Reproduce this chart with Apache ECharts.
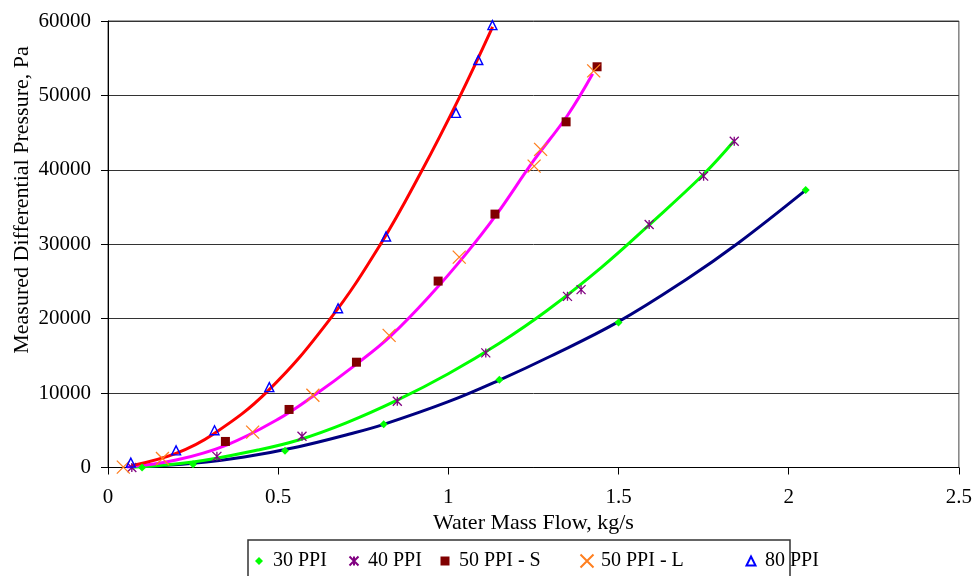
<!DOCTYPE html>
<html>
<head>
<meta charset="utf-8">
<script src="https://cdn.jsdelivr.net/npm/echarts@6/dist/echarts.min.js"></script>
<style>html,body{margin:0;padding:0;background:#fff;}#c{width:975px;height:576px;}</style>
</head>
<body>
<div id="c"></div>
<script>
// ---- data (x: kg/s, y: Pa) ----
const xTicks = [0, 0.5, 1, 1.5, 2, 2.5];
const yTicks = [0, 10000, 20000, 30000, 40000, 50000, 60000];

const ppi30 = [[0.10,0],[0.25,450],[0.52,2250],[0.81,5800],[1.15,11800],[1.50,19500],[2.05,37300]];
const ppi40 = [[0.07,0],[0.32,1500],[0.57,4200],[0.85,8900],[1.11,15400],[1.35,23000],[1.39,23900],[1.59,32650],[1.75,39150],[1.84,43850]];
const ppi50S = [[0.345,3500],[0.532,7800],[0.73,14150],[0.97,25050],[1.137,34050],[1.346,46450],[1.437,53850]];
const ppi50L = [[0.045,50],[0.16,1200],[0.425,4750],[0.602,9700],[0.826,17750],[1.032,28270],[1.252,40500],[1.271,42750],[1.427,53300]];
const ppi80 = [[0.067,650],[0.20,2300],[0.313,5000],[0.474,10800],[0.676,21400],[0.817,31050],[1.0225,47650],[1.088,54750],[1.1295,59450]];

// trendlines
const trend30 = [[0.10,90],[0.25,560],[0.40,1420],[0.56,2800],[0.71,4500],[0.81,5800],[1.00,8850],[1.15,11750],[1.30,14950],[1.50,19600],[1.70,25300],[1.85,30100],[2.05,37270]];
const trend40 = [[0.07,50],[0.25,740],[0.44,2350],[0.56,3700],[0.70,6000],[0.85,9050],[1.00,12600],[1.15,16700],[1.29,21100],[1.45,26900],[1.59,32600],[1.75,39400],[1.838,43800]];
const trend50 = [[0.055,50],[0.20,1000],[0.35,3050],[0.50,6500],[0.60,9500],[0.73,13900],[0.83,17650],[0.95,23300],[1.05,28600],[1.14,33900],[1.25,41200],[1.35,47300],[1.424,52900]];
const trend80 = [[0.069,250],[0.20,1900],[0.31,4500],[0.47,10300],[0.65,19800],[0.80,29950],[0.92,39700],[1.03,49500],[1.13,59200]];

const names = ['30 PPI','40 PPI','50 PPI - S','50 PPI - L','80 PPI'];

const FONT = 'Liberation Serif';
const ASTER = 'path://M0,0L10,10M10,0L0,10M5,0L5,10';
const XMARK = 'path://M0,0L10,10M10,0L0,10';

const chart = echarts.init(document.getElementById('c'), null, {renderer:'canvas'});

function trend(data, color){
  return {type:'line', data:data, smooth:0.4, showSymbol:false, silent:true,
    lineStyle:{color:color, width:3}, z:2};
}
function legendAt(name, textLeft, size){
  const pad = 14 - size/2 - 5;
  return {data:[name], left:textLeft - size - 5 - pad, top:551, padding:0, itemWidth:size, itemHeight:size,
    textStyle:{fontFamily:FONT, fontSize:20, color:'#000', padding:[0,0,0,pad]}, selectedMode:false};
}

const option = {
  animation:false,
  backgroundColor:'#fff',
  grid:{left:108, right:13, top:21, bottom:108.5, show:true, borderColor:'#444', borderWidth:1},
  xAxis:{type:'value', min:0, max:2.5, interval:0.5,
    name:'Water Mass Flow, kg/s', nameLocation:'middle', nameGap:43,
    nameTextStyle:{fontFamily:FONT, fontSize:22, color:'#000'},
    axisLine:{show:true, lineStyle:{color:'#000', width:1}},
    axisTick:{show:true, inside:false, length:7, lineStyle:{color:'#000'}},
    axisLabel:{fontFamily:FONT, fontSize:21, color:'#000', margin:19,
      formatter:function(v){return String(v);}},
    splitLine:{show:false}},
  yAxis:{type:'value', min:0, max:60000, interval:10000,
    axisLine:{show:true, lineStyle:{color:'#000', width:1}},
    axisTick:{show:true, inside:false, length:7, lineStyle:{color:'#000'}},
    axisLabel:{fontFamily:FONT, fontSize:21, color:'#000', margin:17,
      formatter:function(v){return String(v);}},
    splitLine:{show:true, lineStyle:{color:'#333', width:1}}},
  legend:[legendAt(names[0],273,8),legendAt(names[1],367,9),legendAt(names[2],459,9),legendAt(names[3],600,13),legendAt(names[4],764,9)],
  graphic:[
    {type:'rect', shape:{x:248, y:540, width:542, height:60}, style:{fill:'none', stroke:'#333', lineWidth:1.5}, silent:true, z:-1},
    {type:'text', x:22, y:200, rotation:Math.PI/2,
      style:{text:'Measured Differential Pressure, Pa', fontFamily:FONT, fontSize:22, fill:'#000', align:'center', verticalAlign:'middle'}}
  ],
  series:[
    trend(trend30,'#000080'),
    trend(trend40,'#00FF00'),
    trend(trend50,'#FF00FF'),
    trend(trend80,'#FF0000'),
    {name:names[0], type:'scatter', data:ppi30, symbol:'diamond', symbolSize:8, z:5,
      itemStyle:{color:'#00FF00', opacity:1}},
    {name:names[1], type:'scatter', data:ppi40, symbol:ASTER, symbolSize:9, z:5,
      itemStyle:{color:'rgba(0,0,0,0)', borderColor:'#800080', borderWidth:1.3, opacity:1}},
    {name:names[2], type:'scatter', data:ppi50S, symbol:'rect', symbolSize:9, z:5,
      itemStyle:{color:'#800000', opacity:1}},
    {name:names[3], type:'scatter', data:ppi50L, symbol:XMARK, symbolSize:13, z:5,
      itemStyle:{color:'rgba(0,0,0,0)', borderColor:'#FF7F1F', borderWidth:1.3, opacity:1}},
    {name:names[4], type:'scatter', data:ppi80, symbol:'triangle', symbolSize:9, z:5,
      itemStyle:{color:'rgba(0,0,0,0)', borderColor:'#0000FF', borderWidth:1.4, opacity:1}}
  ]
};
chart.setOption(option);
</script>
</body>
</html>
